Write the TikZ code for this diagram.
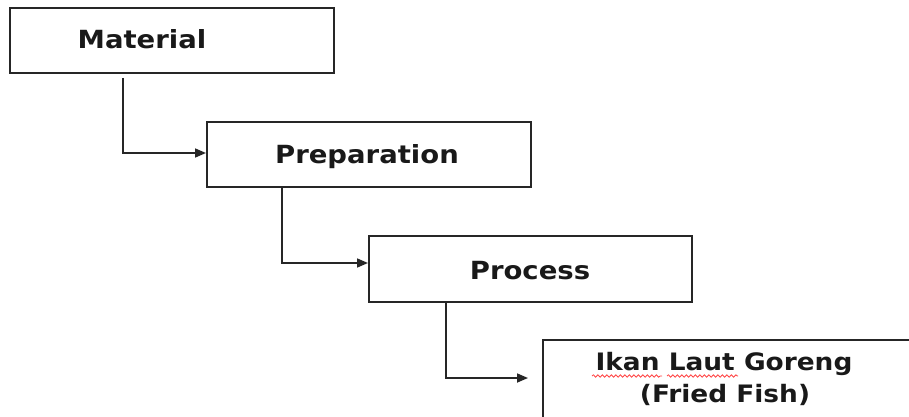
\documentclass[tikz,border=0pt]{standalone}
\usepackage{fontspec}
\setmainfont{DejaVu Sans}
\usetikzlibrary{arrows.meta,calc,decorations.pathmorphing}
\tikzset{
  boxnode/.style={draw=black!85,line width=2pt,rectangle,inner sep=0pt},
  lbl/.style={anchor=base,inner sep=0pt,font=\fontsize{25}{30}\selectfont\bfseries,text=black!90},
  conn/.style={draw=black!85,line width=1.7pt,-{Triangle[length=11pt,width=9pt]}},
  spell/.style={draw=red!75,line width=0.8pt,decorate,decoration={snake,amplitude=1.2pt,segment length=4.5pt}}
}
\newcommand{\wide}[1]{\scalebox{1.1}[1]{#1}}
\begin{document}
\begin{tikzpicture}[x=1pt,y=-1pt]
\useasboundingbox (0,0) rectangle (909,417);
\begin{scope}
\clip (0,0) rectangle (909,417);
\node[boxnode,minimum width=324pt,minimum height=65pt] (b1) at (172,40.5) {};
\node[boxnode,minimum width=324pt,minimum height=65pt] (b2) at (369,154.5) {};
\node[boxnode,minimum width=323pt,minimum height=66pt] (b3) at (530.5,269) {};
\node[boxnode,minimum width=370pt,minimum height=110pt] (b4) at (728,395) {};
\end{scope}
\node[lbl] (t1) at (142,49) {\wide{Material}};
\node[lbl] (t2) at (367,163) {\wide{Preparation}};
\node[lbl] (t3) at (530,279) {\wide{Process}};
\node[lbl,font=\fontsize{24}{30}\selectfont\bfseries] (t4a) at (724,370) {\wide{Ikan Laut Goreng}};
\node[lbl,font=\fontsize{24}{30}\selectfont\bfseries] (t4b) at (725,402) {\wide{(Fried Fish)}};
\coordinate (u1) at (592,376);
\coordinate (u2) at (662,376);
\coordinate (u3) at (667,376);
\coordinate (u4) at (738,376);
\draw[spell] (u1) -- (u2);
\draw[spell] (u3) -- (u4);
\draw[conn] ($(b1.south west)+(114,4)$) |- ($(b2.north west)+(0,32)$);
\draw[conn] ($(b2.south west)+(76,0)$) |- ($(b3.north west)+(0,28)$);
\coordinate (e3) at ($(b4.north west)+(-14,39)$);
\draw[conn] ($(b3.south west)+(78,0)$) |- (e3);
\end{tikzpicture}
\end{document}
